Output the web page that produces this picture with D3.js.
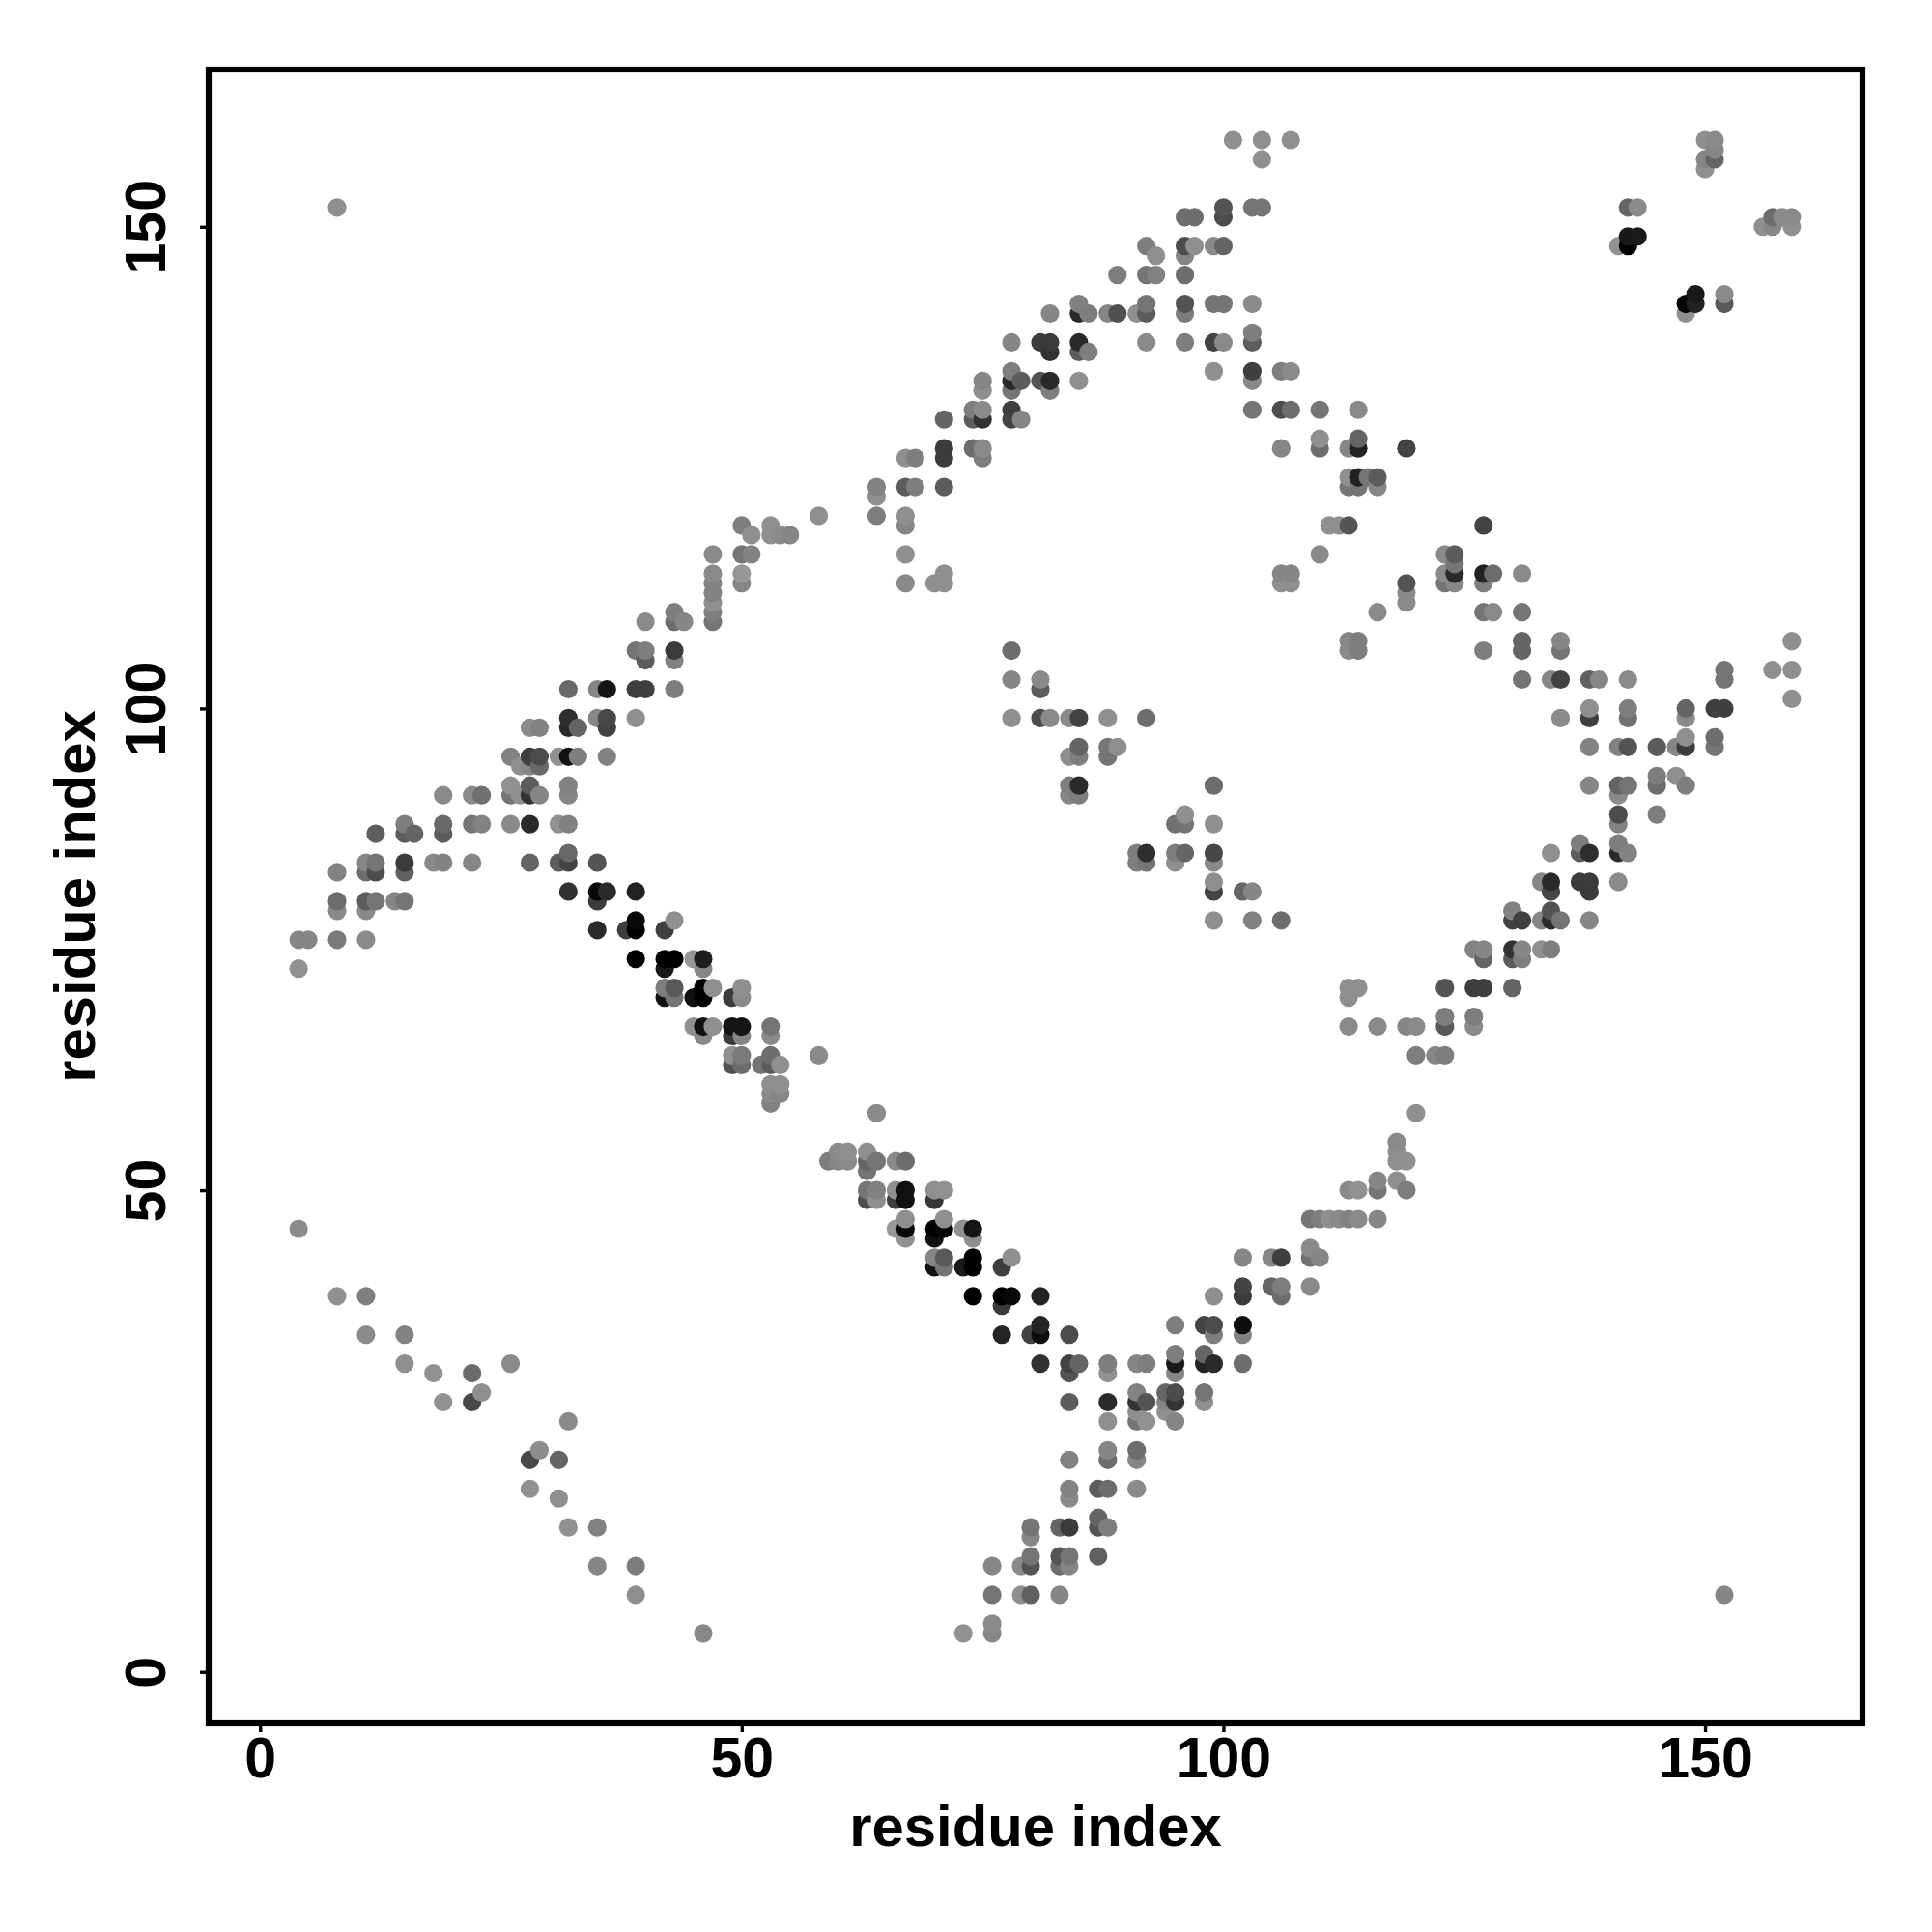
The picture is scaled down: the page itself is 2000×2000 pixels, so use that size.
<!DOCTYPE html>
<html><head><meta charset="utf-8">
<script src="https://cdn.jsdelivr.net/npm/d3@7"></script>
<style>html,body{margin:0;padding:0;background:#fff}svg{display:block}</style>
</head><body><div id="c"></div>
<script>
const tickValues=[0,50,100,150];
const axisTitle="residue index";
const rowY=[159,158,157,156,152,151,150,149,148,147,145,143,142,141,139,138,137,135,134,133,131,130,128,127,126,124,123,122,120,119,118,116,115,114,113,112,111,110,109,107,106,105,104,103,102,101,100,99,98,97,96,95,94,93,92,91,89,88,87,86,85,84,83,82,81,80,79,78,77,76,75,74,73,71,70,68,67,66,64,63,61,60,59,58,55,54,53,52,51,50,49,47,46,45,44,43,42,40,39,38,36,35,33,32,31,29,28,27,26,23,22,19,18,16,15,14,12,11,8,5,4];
const rowX=[
[101,104,107,150,151],[151],[104,150,151],[150],[8,100,103,104,142,143],[96,97,100,157,158,159],[156,157,159],[142,143],[92,96,97,99,100,141,142],[93,96],[89,92,93,96],[149,152],
[85,92,96,99,100,103,148,149,152],[82,85,86,88,89,91,92,96,148],[103],[78,81,82,85,92,96,99,100,103],[82,85,86],[78,99,103,106,107],[75,78,79,81,82,85,103],[75,78,82],
[74,75,78,103,106,107,110,114],[71,74,75,78,79],[110,114],[71,74,75,106,110,113,114,119],[67,68,71,75],[113,114,115,116],[64,67,68,71,113,114,116],[64],[58,64,67],[50,53,67,111,112,113,127],
[51,53,54,55],[47,50,51,67,110,123,124],[124],[47,50,71,106,107,123,124,127,128,131],[47,50,67,70,71,106,107,119,123,124,127],[47,119],[47,119],[43,47,116,127,128,131],[40,43,44,47],
[113,114,131,135,159],[39,40,43,78,113,114,127,131,135],[40,43],[152,157,159],[78,81,131,134,135,138,139,142,152],[32,35,36,39,40,43,81],[159],[138,142,148,151,152],
[32,35,36,39,78,81,82,84,85,88,92,135,138,142,148],[28,29,32,33,36],[148,151],[85,88,89,138,141,142,145,147,148,151],[26,28,29,31,32,33,36,84,85,88],[27,28,29],[145,147],
[26,28,32,84,85,99,138,141,142,145,148],[19,22,23,26,27,28,29,32,84,85,141],[96,141,145],[15,19,22,23,26,28,31,32,95,96,99,141],[12,15,16,19],[137,141],
[32,91,92,95,96,99,134,137,138,141,142],[11,12,15,18,19,22,28,31,32,35,91,92,95,99],[8,11,12,15],[99,133,134,137,138,141],[32,35,36,39,99,102,103,134,138],[8,11,12,14,15,35],[8,11,130,134],
[39,43,99,103,106,130,131,133,134,135,138],[35,38,39,42],[4,5,8,11],[126,127,130,131,133,134],[39,42,43,45,46,127,130,131],[4,42,46],[42,43,46,47,50,113,114,123,126,127,130],
[42,43,45,46,49,50,113],[123,126],[45,46,47,49,50,53,113,116,119,120,123,126],[46,49,50,53],[49,50,53,58,120,122,123],[49,50,52,53,54],[53,54],[53,54],[53],[64,120],[118],[60,61,63,118],
[59,60,61,63,64,66,67,118,119],[63],[116,118],[63,64,66,67,70,71,113,114,116,119],[63,64,66,67,70],[67,71,109,110,111,112,113,114,116],[4,66,67,70,71,73,74],[67,70,74],[109],
[70,71,74,78,102,105,106,109,110],[70,71,73,74,77],[102,105,106,109],[8,11,74,77,78,81,99,102,106],[77],[81,95,98,99,102],[11,15,77,80,81,84,99,102],[95,98],
[15,26,81,84,85,88,91,92,95,98,99,102],[18,22,84,88,95],[23,91,94,95,98],[19,22,84,88,91,92,94,95,98],[91,94],[32,88,91,92,95],[29,88,91],[28,31,84,88,91],[28,84,87,88,91],[31,84],[87],
[32,35,80,83,84,87,88],[80],[80,83,84,87],[35,39,76,79,80,83,84],[39,76,79,80,83,152],[76],[46,73,76]
];
const rowLevel=[
[0x88,0x88,0x88,0x88,0x84],[0x80],[0x88,0x80,0x60],[0x88],[0x88,0x50,0x70,0x70,0x60,0x84],[0x68,0x68,0x48,0x68,0x84,0x84],[0x88,0x80,0x88],[0x18,0x18],[0x78,0x48,0x88,0x84,0x60,0x8c,0x02],[0x88,0x80],[0x78,0x70,0x7c,0x68],[0x18,0x84],
[0x7c,0x70,0x50,0x70,0x70,0x84,0x04,0x20,0x55],[0x80,0x28,0x78,0x80,0x4c,0x88,0x58,0x78,0x88],[0x78],[0x80,0x38,0x38,0x28,0x84,0x78,0x40,0x84,0x58],[0x30,0x58,0x78],[0x78,0x88,0x3c,0x78,0x84],[0x80,0x28,0x58,0x50,0x28,0x88,0x84],[0x88,0x70,0x78],
[0x78,0x84,0x3c,0x70,0x48,0x68,0x70,0x84],[0x60,0x58,0x30,0x40,0x80],[0x88,0x60],[0x38,0x68,0x84,0x80,0x68,0x80,0x20,0x40],[0x88,0x78,0x38,0x78],[0x88,0x20,0x70,0x58],[0x7c,0x58,0x78,0x58,0x70,0x70,0x80],[0x88],[0x88,0x78,0x88],[0x78,0x88,0x80,0x88,0x88,0x50,0x40],
[0x88,0x88,0x84,0x80],[0x84,0x70,0x7c,0x88,0x84,0x84,0x58],[0x70],[0x84,0x90,0x88,0x80,0x80,0x84,0x28,0x20,0x68,0x84],[0x7c,0x80,0x84,0x88,0x88,0x88,0x88,0x50,0x70,0x80,0x78],[0x7c,0x84],[0x88,0x84],[0x78,0x78,0x84,0x70,0x84,0x70],[0x84,0x68,0x80,0x70],
[0x80,0x78,0x60,0x80,0x88],[0x70,0x78,0x38,0x68,0x84,0x78,0x78,0x60,0x70],[0x58,0x7c],[0x70,0x88,0x88],[0x80,0x84,0x70,0x80,0x40,0x5c,0x80,0x84,0x70],[0x64,0x80,0x14,0x3c,0x3c,0x78,0x58],[0x88],[0x88,0x78,0x60,0x3c,0x3c],
[0x2c,0x80,0x45,0x88,0x88,0x48,0x84,0x84,0x40,0x88,0x68,0x84,0x3c,0x6c,0x84],[0x84,0x7c,0x28,0x60,0x40],[0x88,0x68],[0x60,0x70,0x88,0x7c,0x7c,0x50,0x58,0x80,0x38,0x70],[0x7c,0x3c,0x48,0x8a,0x10,0x78,0x7c,0x88,0x78,0x70],[0x88,0x80,0x64],[0x78,0x88],
[0x8a,0x58,0x7c,0x78,0x28,0x68,0x80,0x60,0x70,0x68,0x78],[0x84,0x84,0x6c,0x70,0x88,0x30,0x80,0x80,0x80,0x78,0x84],[0x88,0x48,0x78],[0x78,0x64,0x70,0x7c,0x84,0x28,0x8a,0x7c,0x6c,0x70,0x88,0x7c],[0x5a,0x58,0x60,0x58],[0x78,0x78],
[0x64,0x78,0x2c,0x78,0x60,0x44,0x88,0x58,0x2c,0x28,0x7c],[0x80,0x70,0x38,0x84,0x7c,0x80,0x60,0x58,0x40,0x50,0x78,0x70,0x88,0x84],[0x7c,0x68,0x48,0x5c],[0x88,0x80,0x28,0x38,0x38,0x84],[0x30,0x08,0x28,0x20,0x40,0x60,0x80,0x44,0x38],[0x68,0x58,0x70,0x80,0x70,0x38],[0x84,0x84,0x7c,0x50],
[0x08,0x88,0x88,0x7c,0x68,0x40,0x3c,0x80,0x28,0x70,0x80],[0x28,0x3c,0x00,0x3c],[0x80,0x80,0x74,0x84],[0x7c,0x80,0x30,0x80,0x88,0x78],[0x00,0x00,0x00,0x90,0x1c,0x60,0x58,0x78],[0x8a,0x18,0x80],[0x78,0x55,0x00,0x88,0x88,0x88,0x88,0x50,0x3c,0x3c,0x60],
[0x10,0x70,0x10,0x00,0x38,0x84,0x88],[0x78,0x78],[0x8a,0x10,0x88,0x14,0x14,0x70,0x84,0x84,0x80,0x84,0x55,0x84],[0x84,0x38,0x80,0x84],[0x88,0x74,0x68,0x84,0x78,0x80,0x78],[0x50,0x68,0x70,0x58,0x88],[0x88,0x88],[0x84,0x80],[0x7c],[0x84,0x88],[0x84],[0x84,0x88,0x88,0x88],
[0x78,0x80,0x84,0x60,0x70,0x84,0x68,0x88,0x88],[0x70],[0x80,0x88],[0x70,0x7a,0x88,0x10,0x88,0x8a,0x84,0x8a,0x70,0x78],[0x4a,0x88,0x3c,0x10,0x33],[0x88,0x88,0x70,0x78,0x88,0x84,0x7c,0x84,0x80],[0x85,0x90,0x0a,0x00,0x08,0x8a,0x14],[0x8a,0x10,0x88],[0x84],
[0x80,0x55,0x00,0x88,0x80,0x80,0x3c,0x6c,0x80],[0x10,0x70,0x18,0x00,0x3c],[0x40,0x60,0x78,0x84],[0x8a,0x78,0x00,0x00,0x08,0x20,0x88,0x38,0x68],[0x38],[0x22,0x78,0x40,0x48,0x0c],[0x84,0x7c,0x22,0x40,0x0c,0x48,0x78,0x7c],[0x78,0x60],
[0x88,0x84,0x30,0x40,0x60,0x78,0x80,0x78,0x18,0x22,0x28,0x68],[0x8a,0x66,0x50,0x8a,0x80],[0x88,0x7c,0x60,0x48,0x70],[0x8a,0x45,0x58,0x28,0x30,0x50,0x80,0x33,0x88],[0x88,0x8a],[0x84,0x88,0x70,0x8a,0x80],[0x86,0x80,0x68],[0x45,0x60,0x7c,0x68,0x80],[0x8a,0x7c,0x58,0x68,0x84],[0x88,0x84],[0x60],
[0x8a,0x7c,0x70,0x60,0x38,0x50,0x78],[0x80],[0x70,0x50,0x70,0x5c],[0x80,0x76,0x80,0x84,0x50,0x68,0x80],[0x88,0x70,0x88,0x5c,0x80,0x80],[0x84],[0x82,0x8a,0x80]
];

const W=2000,H=2000;
const left=216,right=1928,top_=72,bottom=1784;
const x=d3.scaleLinear().domain([-5.34,166.34]).range([left,right]);
const y=d3.scaleLinear().domain([-5.34,166.32]).range([bottom,top_]);
const shade=d3.scaleLinear().domain([0,0x90]).range(["#000000","#979797"]);
const FONT='"Liberation Sans",Arial,Helvetica,sans-serif';

const points=[];
rowY.forEach((yy,i)=>rowX[i].forEach((xx,j)=>points.push({x:xx,y:yy,l:rowLevel[i][j]})));
points.sort((a,b)=>d3.ascending(a.x,b.x)||d3.ascending(a.y,b.y));

const svg=d3.select("#c").append("svg").attr("width",W).attr("height",H).attr("viewBox",[0,0,W,H]);
svg.append("rect").attr("width",W).attr("height",H).attr("fill","#fff");

svg.append("g").selectAll("circle").data(points).join("circle")
  .attr("cx",d=>x(d.x)).attr("cy",d=>y(d.y)).attr("r",9.6).attr("fill",d=>shade(d.l));

const gx=svg.append("g").attr("transform",`translate(0,${bottom})`)
  .call(d3.axisBottom(x).tickValues(tickValues).tickSize(9).tickPadding(11).tickFormat(d3.format("d")));
const gy=svg.append("g").attr("transform",`translate(${left},0)`)
  .call(d3.axisLeft(y).tickValues(tickValues).tickSize(9).tickFormat(d3.format("d")));
[gx,gy].forEach(g=>{
  g.select(".domain").remove();
  g.selectAll(".tick line").attr("stroke","#000").attr("stroke-width",3.4);
  g.selectAll(".tick text").attr("fill","#000").style("font-family",FONT).style("font-weight","bold").style("font-size","59px");
});
gx.selectAll(".tick text").attr("dy",null).attr("y",56);
gy.selectAll(".tick text").attr("x",null).attr("dy",null)
  .attr("text-anchor","middle")
  .attr("transform",`translate(-45,0) rotate(-90)`);

svg.append("rect").attr("x",left).attr("y",top_).attr("width",right-left).attr("height",bottom-top_)
  .attr("fill","none").attr("stroke","#000").attr("stroke-width",6.2);

svg.append("text").attr("x",(left+right)/2).attr("y",1911).attr("text-anchor","middle")
  .style("font-family",FONT).style("font-weight","bold").style("font-size","59.8px").text(axisTitle);
svg.append("text").attr("transform",`translate(98,${(top_+bottom)/2}) rotate(-90)`).attr("text-anchor","middle")
  .style("font-family",FONT).style("font-weight","bold").style("font-size","59.8px").text(axisTitle);
</script></body></html>
